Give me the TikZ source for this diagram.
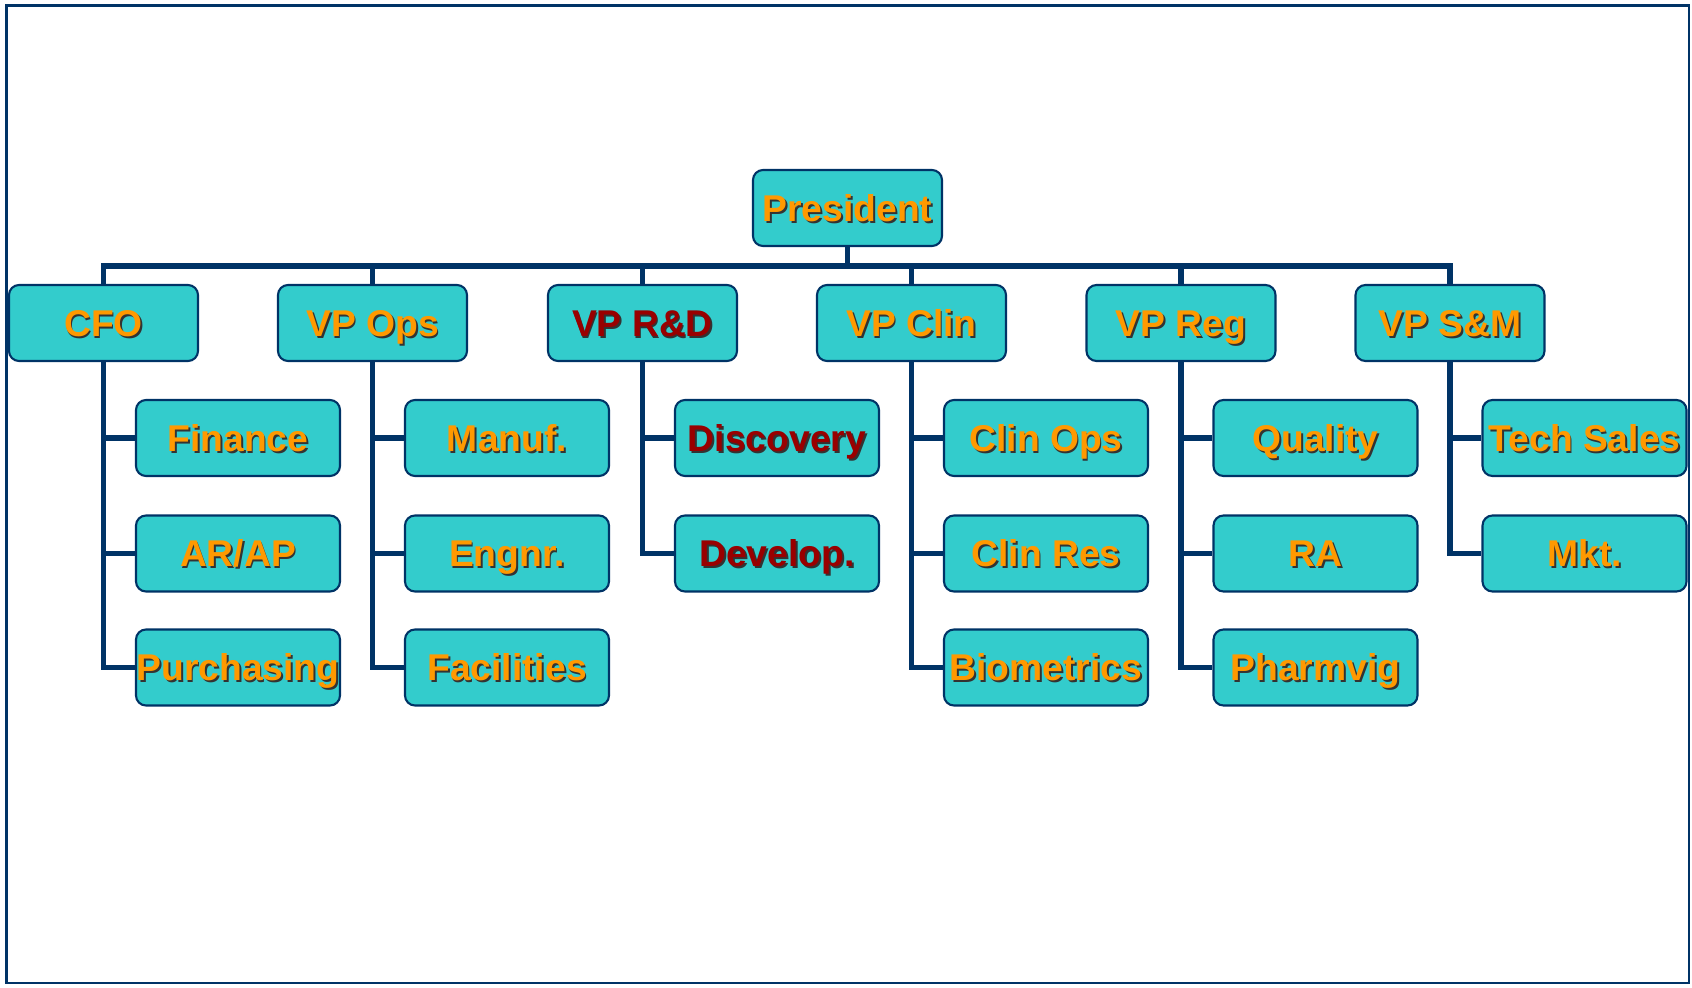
\documentclass[tikz,border=0pt]{standalone}
\usepackage{fontspec}
\setmainfont{Liberation Sans}
\usepackage{tikz}
\usetikzlibrary{positioning}
\definecolor{boxfill}{HTML}{33CCCC}
\definecolor{navy}{HTML}{003366}
\definecolor{orangetxt}{HTML}{FF9900}
\definecolor{redtxt}{HTML}{990000}
\newcommand{\shadowtxt}[1]{\makebox[0pt][l]{\hspace{0.5pt}\raisebox{-0.5pt}{\color{black!80}#1}}#1}

\begin{document}
\begin{tikzpicture}[
	box/.style={draw=navy, line width=0.6pt, fill=boxfill, rounded corners=0.1cm,
		minimum height=0.76cm, inner sep=0pt, text height=0.265cm, text depth=0cm,
		font=\fontsize{10.6}{12}\selectfont\bfseries, text=orangetxt},
	head/.style={box, minimum width=1.89cm},
	unit/.style={box, minimum width=2.04cm},
	rd/.style={text=redtxt},
	link/.style={navy, line width=1.45pt}
]
	\useasboundingbox (0,0) rectangle (16.92,-9.87);
	\draw[navy, line width=0.8pt] (0.067,-0.057) rectangle (16.89,-9.83);

	% top level
	\node[head] (pres) at (8.475,-2.08) {\shadowtxt{President}};
	\node[head] (cfo) at (1.035,-3.23) {\shadowtxt{CFO}};
	\node[head] (ops) at (3.725,-3.23) {\shadowtxt{VP Ops}};
	\node[head,rd] (rd) at (6.425,-3.23) {\shadowtxt{VP R\&D}};
	\node[head] (clin) at (9.115,-3.23) {\shadowtxt{VP Clin}};
	\node[head] (reg) at (11.81,-3.23) {\shadowtxt{VP Reg}};
	\node[head] (sm) at (14.50,-3.23) {\shadowtxt{VP S\&M}};

	% departments
	\node[unit] (fin) at (2.38,-4.38) {\shadowtxt{Finance}};
	\node[unit] (arap) at (2.38,-5.535) {\shadowtxt{AR/AP}};
	\node[unit] (purch) at (2.38,-6.675) {\shadowtxt{Purchasing}};
	\node[unit] (manuf) at (5.07,-4.38) {\shadowtxt{Manuf.}};
	\node[unit] (engnr) at (5.07,-5.535) {\shadowtxt{Engnr.}};
	\node[unit] (facil) at (5.07,-6.675) {\shadowtxt{Facilities}};
	\node[unit,rd] (disc) at (7.77,-4.38) {\shadowtxt{Discovery}};
	\node[unit,rd] (devel) at (7.77,-5.535) {\shadowtxt{Develop.}};
	\node[unit] (clinops) at (10.46,-4.38) {\shadowtxt{Clin Ops}};
	\node[unit] (clinres) at (10.46,-5.535) {\shadowtxt{Clin Res}};
	\node[unit] (biom) at (10.46,-6.675) {\shadowtxt{Biometrics}};
	\node[unit] (qual) at (13.155,-4.38) {\shadowtxt{Quality}};
	\node[unit] (ra) at (13.155,-5.535) {\shadowtxt{RA}};
	\node[unit] (pharm) at (13.155,-6.675) {\shadowtxt{Pharmvig}};
	\node[unit] (techs) at (15.845,-4.38) {\shadowtxt{Tech Sales}};
	\node[unit] (mkt) at (15.845,-5.535) {\shadowtxt{Mkt.}};

	% connectors
	\coordinate (bus) at (8.475,-2.66);
	\draw[link] (pres.south) -- (bus);
	\draw[link] (cfo.north) |- (bus) -| (sm.north);
	\foreach \v in {ops,rd,clin,reg}
		\draw[link] (\v.north) -- (\v.north |- bus);
	\draw[link] (cfo.south) |- (purch.west);
	\draw[link] (ops.south) |- (facil.west);
	\draw[link] (rd.south) |- (devel.west);
	\draw[link] (clin.south) |- (biom.west);
	\draw[link] (reg.south) |- (pharm.west);
	\draw[link] (sm.south) |- (mkt.west);
	\foreach \p/\c in {cfo/fin,cfo/arap,ops/manuf,ops/engnr,rd/disc,clin/clinops,clin/clinres,reg/qual,reg/ra,sm/techs}
		\draw[link] (\p.south |- \c.west) -- (\c.west);
\end{tikzpicture}
\end{document}
